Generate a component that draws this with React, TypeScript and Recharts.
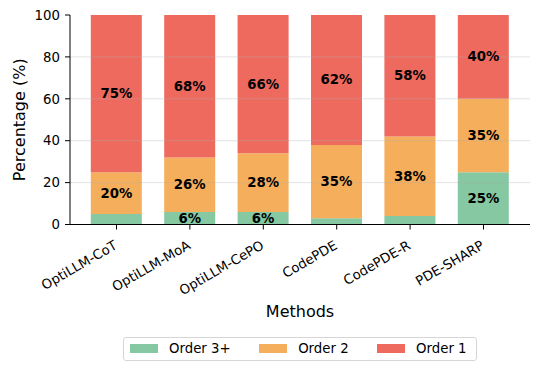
import React from 'react';
import { BarChart, Bar, XAxis, YAxis, ReferenceLine, LabelList } from 'recharts';

const methods = ['OptiLLM-CoT', 'OptiLLM-MoA', 'OptiLLM-CePO', 'CodePDE', 'CodePDE-R', 'PDE-SHARP'];
const order3 = [5, 6, 6, 3, 4, 25];
const order2 = [20, 26, 28, 35, 38, 35];
const order1 = [75, 68, 66, 62, 58, 40];
const yTicks = [0, 20, 40, 60, 80, 100];
const gridValues = [20, 40, 60, 80];

const seriesNames = ['Order 3+', 'Order 2', 'Order 1'];
const seriesColors = ['#85C8A1', '#F5AE5B', '#EE6A5F'];

const data = methods.map((m, i) => ({ name: m, o3: order3[i], o2: order2[i], o1: order1[i] }));

const FONT = '"DejaVu Sans", sans-serif';
const FS = 13.3;

const XTick = (props: any) => {
  const { x, y, payload } = props;
  return (
    <g transform={`translate(${x + 1.5},${y + 16.5}) rotate(-30)`}>
      <text x={0} y={0} textAnchor="end" fontSize={FS} fontFamily={FONT} fill="#000">
        {payload.value}
      </text>
    </g>
  );
};

const SegLabel = (props: any) => {
  const { x, y, width, height, value } = props;
  if (value == null || value <= 5) return null;
  return (
    <text
      x={x + width / 2}
      y={y + height / 2}
      textAnchor="middle"
      dominantBaseline="central"
      fontSize={FS}
      fontWeight="bold"
      fontFamily={FONT}
      fill="#000"
    >
      {`${value}%`}
    </text>
  );
};

export default function App() {
  return (
    <div style={{ position: 'absolute', left: 0, top: 0, width: 540, height: 371, background: '#fff', fontFamily: FONT }}>
      <BarChart
        width={540}
        height={371}
        data={data}
        margin={{ top: 15, right: 10, left: 0, bottom: 54.5 }}
      >
        <XAxis
          dataKey="name"
          interval={0}
          tick={<XTick />}
          tickSize={5}
          tickMargin={2}
          height={92}
          padding={{ left: 9.8, right: 9.8 }}
          axisLine={{ stroke: '#000', strokeWidth: 1 }}
          tickLine={{ stroke: '#000', strokeWidth: 1 }}
          label={{ value: 'Methods', position: 'insideBottom', offset: 0, style: { fontSize: 16, fill: '#000', fontFamily: FONT } }}
        />
        <XAxis xAxisId="top" dataKey="name" orientation="top" height={0} tick={false} tickLine={false} axisLine={{ stroke: '#000', strokeWidth: 1 }} />
        <YAxis
          domain={[0, 100]}
          ticks={yTicks}
          width={70}
          tickSize={5}
          tickMargin={5}
          tick={{ fontSize: FS, fill: '#000', fontFamily: FONT }}
          axisLine={{ stroke: '#000', strokeWidth: 1 }}
          tickLine={{ stroke: '#000', strokeWidth: 1 }}
          label={{ value: 'Percentage (%)', angle: -90, position: 'insideLeft', offset: 19, style: { textAnchor: 'middle', fontSize: 16, fill: '#000', fontFamily: FONT } }}
        />
        <YAxis yAxisId="right" orientation="right" width={0} domain={[0, 100]} tick={false} tickLine={false} axisLine={{ stroke: '#000', strokeWidth: 1 }} />
        <Bar dataKey="o3" name={seriesNames[0]} stackId="a" fill={seriesColors[0]} barSize={51} isAnimationActive={false}>
          <LabelList dataKey="o3" content={<SegLabel />} />
        </Bar>
        <Bar dataKey="o2" name={seriesNames[1]} stackId="a" fill={seriesColors[1]} barSize={51} isAnimationActive={false}>
          <LabelList dataKey="o2" content={<SegLabel />} />
        </Bar>
        <Bar dataKey="o1" name={seriesNames[2]} stackId="a" fill={seriesColors[2]} barSize={51} isAnimationActive={false}>
          <LabelList dataKey="o1" content={<SegLabel />} />
        </Bar>
        {gridValues.map((v) => (
          <ReferenceLine key={v} y={v} stroke="#b0b0b0" strokeOpacity={0.35} strokeWidth={1} />
        ))}
      </BarChart>
      <div
        style={{
          position: 'absolute',
          left: 123,
          top: 336.5,
          width: 354,
          height: 24,
          boxSizing: 'border-box',
          border: '1px solid #d6d6d6',
          borderRadius: 3,
          display: 'flex',
          alignItems: 'center',
          paddingLeft: 5.5,
          fontSize: FS,
          fontFamily: FONT,
          color: '#000',
        }}
      >
        {seriesNames.map((n, i) => (
          <div key={n} style={{ display: 'flex', alignItems: 'center', marginRight: i < 2 ? 28 : 0 }}>
            <div style={{ width: 28, height: 9, background: seriesColors[i], marginRight: 11.5 }} />
            <span style={{ whiteSpace: 'nowrap' }}>{n}</span>
          </div>
        ))}
      </div>
    </div>
  );
}
